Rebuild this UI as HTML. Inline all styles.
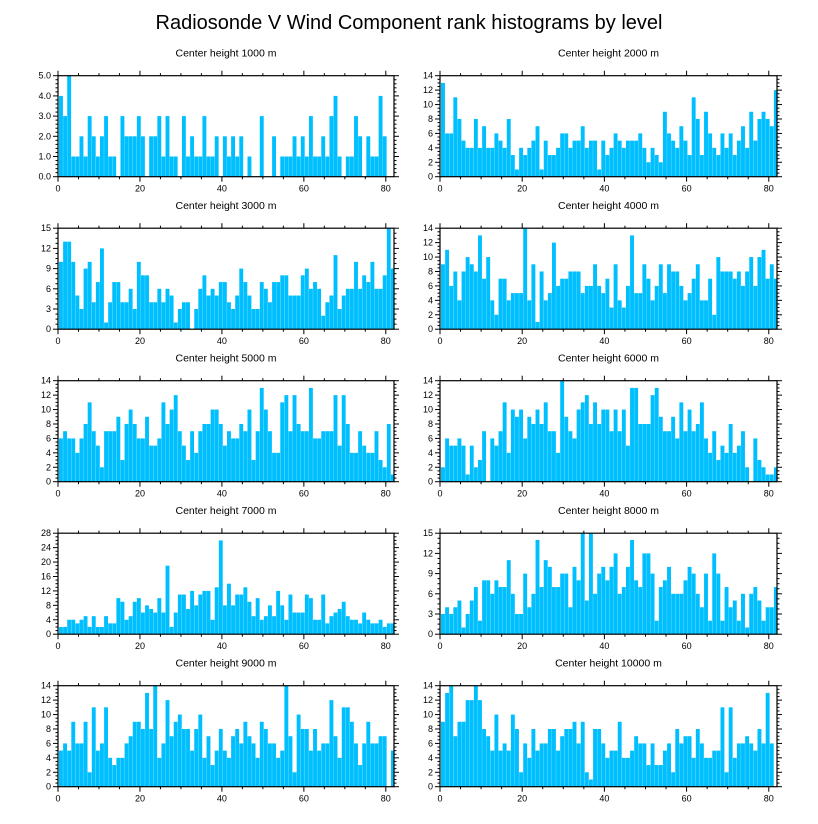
<!DOCTYPE html>
<html><head><meta charset="utf-8">
<style>
body{margin:0;background:#fff;}
svg{display:block;font-family:"Liberation Sans",sans-serif;}
</style></head>
<body>
<svg id="chart" width="818" height="824" viewBox="0 0 818 824" xmlns="http://www.w3.org/2000/svg">
<text x="409" y="29" text-anchor="middle" font-size="20">Radiosonde V Wind Component rank histograms by level</text>
</svg>
<script>
const levels = ["1000","2000","3000","4000","5000","6000","7000","8000","9000","10000"];
const yMax = [5,14,15,14,14,14,28,15,14,14];
const yStep = [1,2,3,2,2,2,4,3,2,2];
const xTicks = [0,20,40,60,80];
const counts1000 = [4,3,5,1,1,2,1,3,2,1,2,3,1,1,0,3,2,2,2,3,2,0,2,2,3,1,3,1,1,0,3,1,2,1,1,3,1,1,2,0,2,1,2,1,2,0,1,0,0,3,0,0,2,0,1,1,1,2,1,2,1,3,1,1,2,1,3,4,1,0,1,1,3,2,0,2,1,1,4,2];
const counts2000 = [13,6,6,11,8,5,4,4,8,4,7,4,4,6,5,4,8,3,1,4,3,4,5,7,1,5,3,3,4,6,6,4,5,5,7,4,5,5,1,5,3,4,6,5,4,5,5,5,6,4,2,4,3,2,9,6,5,4,7,5,3,11,8,3,9,6,4,3,6,4,6,3,5,7,4,9,5,8,9,8,7,12];
const counts3000 = [10,13,13,10,5,3,9,10,4,7,12,1,4,7,7,4,4,6,3,10,8,8,4,4,6,4,6,5,1,3,4,4,0,3,6,8,5,6,5,7,7,4,3,5,9,7,5,3,3,7,6,4,7,7,8,8,5,5,5,8,9,6,7,6,2,4,5,11,3,5,6,6,10,6,8,7,10,6,6,8,15,9];
const counts4000 = [9,11,6,8,4,8,10,9,8,13,7,10,4,2,7,7,4,5,5,5,14,4,9,1,8,4,5,12,6,7,7,8,8,8,5,6,6,9,6,5,7,3,9,4,3,6,13,5,5,9,7,4,6,9,5,9,8,8,6,4,5,7,9,4,4,7,2,10,8,8,8,7,8,6,8,10,6,10,11,7,9,7];
const counts5000 = [6,7,6,6,4,6,8,11,7,5,2,7,7,7,9,3,8,10,8,6,6,9,5,5,6,11,8,10,12,7,5,3,7,4,7,8,8,10,10,8,5,7,6,6,8,7,10,3,7,13,10,7,4,4,11,12,7,12,8,7,7,13,6,6,7,7,7,12,5,12,8,4,4,7,5,4,4,7,3,2,8,1];
const counts6000 = [2,6,5,5,6,5,1,5,2,3,7,0,6,5,7,11,4,10,9,10,6,9,8,10,8,11,7,7,4,14,9,7,6,10,11,12,8,11,8,10,10,7,10,7,10,5,13,13,8,8,8,12,13,9,7,7,9,6,11,7,10,7,8,11,6,4,7,3,5,4,8,4,5,7,2,0,6,3,2,1,1,2];
const counts7000 = [2,2,4,4,3,4,5,2,5,2,2,5,3,3,10,9,4,5,9,10,6,8,7,6,10,6,19,2,6,11,11,7,12,8,11,12,12,4,13,26,8,14,8,11,11,13,9,5,10,4,5,8,5,12,8,4,11,6,6,6,11,10,4,4,11,3,5,6,7,9,5,4,4,3,6,4,3,3,4,2,3,3];
const counts8000 = [3,4,3,4,5,1,3,5,7,2,8,8,6,8,7,7,11,6,3,3,9,4,6,14,7,11,10,7,7,9,9,4,10,8,15,5,15,6,9,10,8,10,12,6,7,10,14,8,7,12,12,9,2,7,8,10,6,6,6,8,10,9,6,4,9,2,12,9,2,7,4,5,2,6,1,6,7,5,2,4,4,7];
const counts9000 = [5,6,5,9,6,6,9,2,11,5,6,11,4,3,4,4,6,7,9,9,8,13,8,14,4,6,12,7,9,10,8,8,5,8,10,4,7,3,5,8,5,4,7,8,6,9,7,6,4,9,8,6,6,4,5,14,7,2,10,8,8,5,8,5,6,6,12,7,4,11,11,9,6,3,6,9,6,6,7,7,0,5];
const counts10000 = [9,13,14,7,9,9,12,12,14,12,8,7,5,10,5,6,5,10,8,2,6,4,8,5,6,6,8,8,5,7,8,8,9,6,9,2,1,8,8,6,4,5,5,9,4,4,5,7,6,6,3,6,3,3,5,6,2,8,6,7,7,4,8,6,4,4,5,5,11,2,11,4,6,6,7,6,5,8,6,13,6];
const allCounts = [counts1000,counts2000,counts3000,counts4000,counts5000,counts6000,counts7000,counts8000,counts9000,counts10000];

const NS="http://www.w3.org/2000/svg";
const svg=document.getElementById('chart');
function mk(tag,attrs,parent){const e=document.createElementNS(NS,tag);for(const k in attrs)e.setAttribute(k,attrs[k]);(parent||svg).appendChild(e);return e;}
const defs=mk('defs',{});
const XMAX=82;
for(let p=0;p<10;p++){
  const col=p%2,row=Math.floor(p/2);
  const L=col===0?58:440, R=col===0?394:777, T=75.7+row*152.5, B=T+101;
  const xs=v=>L+(v/XMAX)*(R-L);
  const ys=v=>B-(v/yMax[p])*(B-T);
  const cp=mk('clipPath',{id:'clip'+p},defs);
  mk('rect',{x:L,y:T-1,width:R-L,height:B-T+1},cp);
  const g=mk('g',{});
  
  
  const st=mk('text',{x:(L+R)/2,y:T-19,'text-anchor':'middle','font-size':'10.5'},g);
  
  
  st.textContent='Center height '+levels[p]+' m';
  const bg=mk('g',{'clip-path':'url(#clip'+p+')'},g);
  const data=allCounts[p];
  data.forEach((v,i)=>{
    if(v<=0)return;
    const b=mk('rect',{x:xs(i+0.25),y:ys(v),width:xs(0.95)-xs(0),height:B-ys(v),fill:'#00bfff'},bg);
    
    
  });
  const fr=mk('rect',{x:L,y:T,width:R-L,height:B-T,fill:'none',stroke:'#000','stroke-width':'1.2'},g);
  
  
  for(let v=0;v<=XMAX;v+=5){
    const maj=(v%20===0), len=maj?5:2.5, x=xs(v);
    mk('line',{x1:x,y1:B,x2:x,y2:B+len,stroke:'#000','stroke-width':'1'},g);
    mk('line',{x1:x,y1:T,x2:x,y2:T-len,stroke:'#000','stroke-width':'1'},g);
  }
  xTicks.forEach(v=>{
    const t=mk('text',{x:xs(v),y:B+15,'text-anchor':'middle','font-size':'9'},g);
    
    
    t.textContent=v;
  });
  const minor=yStep[p]/(p===0?5:4);
  for(let k=0;k<=Math.round(yMax[p]/minor);k++){
    const v=k*minor, y=ys(v), maj=Math.abs(v/yStep[p]-Math.round(v/yStep[p]))<1e-6, len=maj?5:2.5;
    mk('line',{x1:L,y1:y,x2:L-len,y2:y,stroke:'#000','stroke-width':'1'},g);
    mk('line',{x1:R,y1:y,x2:R+len,y2:y,stroke:'#000','stroke-width':'1'},g);
  }
  for(let v=0;v<=yMax[p]+1e-9;v+=yStep[p]){
    const t=mk('text',{x:L-7,y:ys(v)+3,'text-anchor':'end','font-size':'9'},g);
    
    
    t.textContent=p===0?v.toFixed(1):v;
  }
}
</script>
</body></html>
